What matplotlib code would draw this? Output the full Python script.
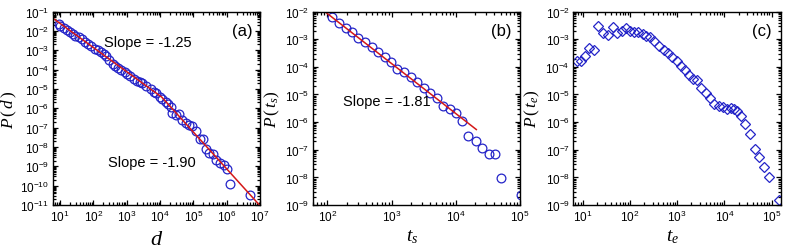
import numpy as np
import matplotlib
matplotlib.use('Agg')
import matplotlib.pyplot as plt
from matplotlib.ticker import LogLocator, NullFormatter

plt.rcParams['font.family'] = ['Liberation Sans', 'DejaVu Sans']
plt.rcParams['mathtext.fontset'] = 'custom'
plt.rcParams['mathtext.rm'] = 'Liberation Serif'
plt.rcParams['mathtext.it'] = 'Liberation Serif:italic'

# panel (a): P(d)
d_vals = [9.3, 10.2, 12.9, 16.2, 20.4, 24.0, 28.8, 36.3, 45.7, 57.5, 69.2, 87.1,
          110, 138, 166, 204, 245, 302, 389, 457, 550, 692, 871, 1020, 1290,
          1620, 2040, 2570, 2950, 3890, 5250, 6610, 7760, 9770, 1.17e4, 1.48e4,
          1.78e4, 2.14e4, 2.34e4, 2.95e4, 3.72e4, 4.47e4, 5.89e4, 7.41e4, 9.33e4,
          1.23e5, 1.55e5, 1.95e5, 2.40e5, 2.95e5, 3.89e5, 4.90e5, 6.31e5, 8.32e5,
          1.00e6, 1.26e6, 5.01e6]
pd_vals = [2.19e-2, 1.78e-2, 1.45e-2, 1.10e-2, 8.7e-3, 7.1e-3, 5.75e-3, 4.79e-3,
           3.63e-3, 2.69e-3, 2.14e-3, 1.62e-3, 1.23e-3, 1.00e-3, 7.76e-4, 6.46e-4,
           4.79e-4, 3.24e-4, 1.95e-4, 1.45e-4, 1.15e-4, 9.8e-5, 7.76e-5, 6.03e-5,
           4.79e-5, 3.47e-5, 2.69e-5, 2.29e-5, 2.14e-5, 1.45e-5, 9.55e-6, 7.24e-6,
           5.89e-6, 3.98e-6, 2.88e-6, 2.19e-6, 1.66e-6, 1.20e-6, 5.75e-7, 4.37e-7,
           5.01e-7, 2.63e-7, 1.74e-7, 1.32e-7, 1.17e-7, 6.46e-8, 2.69e-8, 2.45e-8,
           8.1e-9, 4.79e-9, 4.37e-9, 2.14e-9, 1.41e-9, 1.23e-9, 7.24e-10, 1.29e-10,
           3.31e-11]
fit_a_x = [6, 1.12e4, 1e7]
fit_a_y = [4.6e-2, 3.8e-6, 9.3e-12]

# panel (b): P(t_s)
ts_vals = [120, 151, 195, 240, 302, 389, 501, 617, 776, 977, 1230, 1550, 1995,
           2510, 3236, 3981, 5129, 6310, 8128, 1.02e4, 1.26e4, 1.55e4, 2.04e4,
           2.57e4, 3.24e4, 4.07e4, 5.13e4, 1.02e5]
pts_vals = [6.6e-3, 3.98e-3, 2.57e-3, 1.86e-3, 1.12e-3, 7.6e-4, 5.25e-4, 3.39e-4,
            2.24e-4, 1.48e-4, 8.3e-5, 6.46e-5, 4.27e-5, 2.82e-5, 1.70e-5, 1.15e-5,
            7.4e-6, 3.98e-6, 2.88e-6, 2.19e-6, 1.10e-6, 3.09e-7, 2.09e-7, 1.12e-7,
            6.9e-8, 7.2e-8, 9.3e-9, 2.34e-9]
fit_b_x = [91, 2.09e4]
fit_b_y = [1.0e-2, 5.4e-7]

# panel (c): P(t_e)
te_vals = [7.4, 9.1, 11.2, 13.5, 17.4, 21.4, 26.3, 33.9, 42.7, 53.7, 66.1, 83.2,
           100, 120, 151, 186, 219, 263, 324, 417, 525, 646, 794, 977, 1200, 1450,
           1780, 2190, 2630, 3240, 4070, 4900, 6030, 7590, 9330, 1.15e4, 1.35e4,
           1.58e4, 1.86e4, 2.24e4, 2.69e4, 3.47e4, 4.37e4, 5.37e4, 6.76e4, 8.71e4,
           1.45e5]
pte_vals = [1.58e-4, 1.66e-4, 2.51e-4, 4.68e-4, 4.17e-4, 2.88e-3, 1.62e-3, 1.41e-3,
            2.82e-3, 1.66e-3, 1.91e-3, 2.45e-3, 2.04e-3, 1.86e-3, 1.78e-3, 1.55e-3,
            1.35e-3, 1.17e-3, 8.3e-4, 5.9e-4, 4.17e-4, 3.09e-4, 2.19e-4, 1.58e-4,
            1.10e-4, 7.8e-5, 5.0e-5, 3.63e-5, 3.31e-5, 1.66e-5, 1.12e-5, 7.4e-6,
            4.68e-6, 3.89e-6, 3.39e-6, 2.95e-6, 3.16e-6, 2.95e-6, 2.63e-6, 1.62e-6,
            8.5e-7, 3.72e-7, 1.07e-7, 5.4e-8, 2.34e-8, 1.07e-8, 1.58e-9]

blue = '#2424c8'
red = '#d41818'

fig = plt.figure(figsize=(7.87, 2.51), dpi=100)
w, h, b = 0.2634, 0.771, 0.179
ax_a = fig.add_axes([0.067, b, w, h])
ax_b = fig.add_axes([0.3973, b, w, h])
ax_c = fig.add_axes([0.7285, b, w, h])


def style(ax, xlim, ylim):
    ax.set_xscale('log')
    ax.set_yscale('log')
    ax.set_xlim(*xlim)
    ax.set_ylim(*ylim)
    for axis in (ax.xaxis, ax.yaxis):
        axis.set_major_locator(LogLocator(base=10, numticks=30))
        axis.set_minor_locator(LogLocator(base=10, subs=np.arange(2, 10), numticks=300))
        axis.set_minor_formatter(NullFormatter())
    ax.tick_params(which='both', direction='in', top=True, right=True, labelsize=8.5,
                   width=0.9)
    ax.tick_params(which='major', length=3.5, pad=2.5)
    ax.tick_params(which='minor', length=2)
    for s in ax.spines.values():
        s.set_linewidth(1.0)


#(a)
ax_a.plot(d_vals, pd_vals, 'o', mfc='none', mec=blue, ms=6.3, mew=0.9)
ax_a.plot(fit_a_x, fit_a_y, '-', color=red, lw=1.1)
style(ax_a, (6, 1e7), (1e-11, 1e-1))
ax_a.set_xlabel('$d$', fontsize=16)
ax_a.set_ylabel(r'$P\,(\,d\,)$', fontsize=12.5)
ax_a.text(0.46, 0.842, 'Slope = -1.25', transform=ax_a.transAxes, ha='center', va='center', fontsize=10.5)
ax_a.text(0.477, 0.22, 'Slope = -1.90', transform=ax_a.transAxes, ha='center', va='center', fontsize=10.5)
ax_a.text(0.915, 0.9, '(a)', transform=ax_a.transAxes, ha='center', va='center', fontsize=12)

#(b)
ax_b.plot(ts_vals, pts_vals, 'o', mfc='none', mec=blue, ms=6.3, mew=0.9)
ax_b.plot(fit_b_x, fit_b_y, '-', color=red, lw=1.1)
style(ax_b, (59, 1e5), (1e-9, 1e-2))
ax_b.set_xlabel('$t_s$', fontsize=14)
ax_b.set_ylabel(r'$P\,(\,t_s)$', fontsize=12.5)
ax_b.text(0.357, 0.539, 'Slope = -1.81', transform=ax_b.transAxes, ha='center', va='center', fontsize=10.5)
ax_b.text(0.91, 0.9, '(b)', transform=ax_b.transAxes, ha='center', va='center', fontsize=12)

#(c)
ax_c.plot(te_vals, pte_vals, 'D', mfc='none', mec=blue, ms=5.3, mew=0.9)
style(ax_c, (6.3, 1.55e5), (1e-9, 1e-2))
ax_c.set_xlabel('$t_e$', fontsize=14)
ax_c.set_ylabel(r'$P\,(\,t_e)$', fontsize=12.5)
ax_c.text(0.91, 0.9, '(c)', transform=ax_c.transAxes, ha='center', va='center', fontsize=12)

# label positions in axes coords
ax_a.xaxis.set_label_coords(0.5, -0.12)
ax_b.xaxis.set_label_coords(0.48, -0.115)
ax_c.xaxis.set_label_coords(0.48, -0.115)
ax_a.yaxis.set_label_coords(-0.165, 0.5)
ax_b.yaxis.set_label_coords(-0.148, 0.5)
ax_c.yaxis.set_label_coords(-0.15, 0.5)

fig.savefig('out.png', dpi=100)
